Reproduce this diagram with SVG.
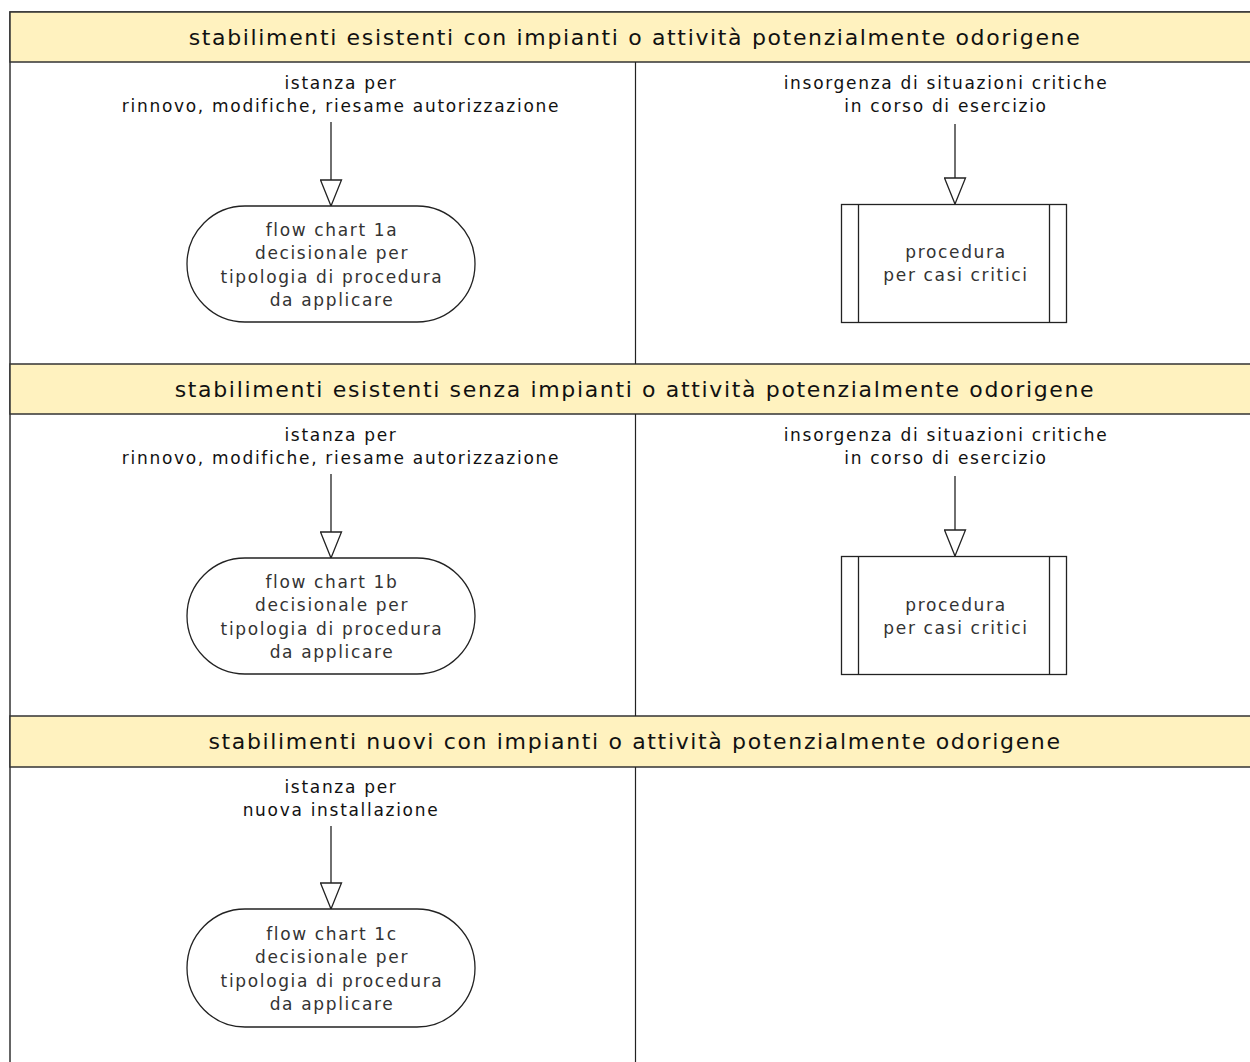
<svg xmlns="http://www.w3.org/2000/svg" width="1250" height="1062" viewBox="0 0 1250 1062">
<defs>
<style>
.hdr{fill:#fff2bf;stroke:#333;stroke-width:1.5}
.lane{fill:#fff;stroke:#333;stroke-width:1.5}
.div{stroke:#222;stroke-width:1.2}
.htxt{font-family:"DejaVu Sans",sans-serif;font-size:22px;letter-spacing:1.65px;fill:#111;text-anchor:middle}
.etxt{font-family:"DejaVu Sans",sans-serif;font-size:17px;letter-spacing:1.7px;fill:#111;text-anchor:middle}
.ntxt{font-family:"DejaVu Sans",sans-serif;font-size:17px;letter-spacing:1.65px;fill:#333;text-anchor:middle}
.shape{fill:#fff;stroke:#222;stroke-width:1.3}
.edge{stroke:#222;stroke-width:1.3;fill:none}
</style>
<marker id="tri" markerWidth="24" markerHeight="28" refX="11" refY="27" orient="0" markerUnits="userSpaceOnUse">
<path d="M0.5,1 L21.5,1 L11,27 Z" fill="#fff" stroke="#222" stroke-width="1.3"/>
</marker>
</defs>
<rect width="1250" height="1062" fill="#fff"/>
<g id="lanes">
<rect class="lane" x="10" y="12" width="1260" height="1070"/>
<rect class="hdr" x="10" y="12" width="1260" height="50"/>
<rect class="hdr" x="10" y="364" width="1260" height="50"/>
<rect class="hdr" x="10" y="716" width="1260" height="51"/>
<line class="div" x1="635.5" y1="62" x2="635.5" y2="364"/>
<line class="div" x1="635.5" y1="414" x2="635.5" y2="716"/>
<line class="div" x1="635.5" y1="767" x2="635.5" y2="1070"/>
<text class="htxt" x="635" y="45">stabilimenti esistenti con impianti o attività potenzialmente odorigene</text>
<text class="htxt" x="635" y="397">stabilimenti esistenti senza impianti o attività potenzialmente odorigene</text>
<text class="htxt" x="635" y="749">stabilimenti nuovi con impianti o attività potenzialmente odorigene</text>
</g>
<g id="connectors">
<line class="edge" x1="331" y1="122" x2="331" y2="206" marker-end="url(#tri)"/>
<line class="edge" x1="955" y1="124" x2="955" y2="204" marker-end="url(#tri)"/>
<line class="edge" x1="331" y1="474" x2="331" y2="558" marker-end="url(#tri)"/>
<line class="edge" x1="955" y1="476" x2="955" y2="556" marker-end="url(#tri)"/>
<line class="edge" x1="331" y1="826" x2="331" y2="909" marker-end="url(#tri)"/>
<text class="etxt" x="341" y="89">istanza per</text>
<text class="etxt" x="341" y="112">rinnovo, modifiche, riesame autorizzazione</text>
<text class="etxt" x="946" y="89">insorgenza di situazioni critiche</text>
<text class="etxt" x="946" y="112">in corso di esercizio</text>
<text class="etxt" x="341" y="441">istanza per</text>
<text class="etxt" x="341" y="464">rinnovo, modifiche, riesame autorizzazione</text>
<text class="etxt" x="946" y="441">insorgenza di situazioni critiche</text>
<text class="etxt" x="946" y="464">in corso di esercizio</text>
<text class="etxt" x="341" y="793">istanza per</text>
<text class="etxt" x="341" y="816">nuova installazione</text>
</g>
<g id="node-1a">
<rect class="shape" x="187" y="206" width="288" height="116" rx="58" ry="58"/>
<text class="ntxt" x="332" y="236">flow chart 1a</text>
<text class="ntxt" x="332" y="259">decisionale per</text>
<text class="ntxt" x="332" y="283">tipologia di procedura</text>
<text class="ntxt" x="332" y="306">da applicare</text>
</g>
<g id="node-critici-1">
<rect class="shape" x="841.5" y="204.5" width="225" height="118"/>
<line class="shape" x1="858.5" y1="204.5" x2="858.5" y2="322.5"/>
<line class="shape" x1="1049.5" y1="204.5" x2="1049.5" y2="322.5"/>
<text class="ntxt" x="956" y="258">procedura</text>
<text class="ntxt" x="956" y="281">per casi critici</text>
</g>
<g id="node-1b">
<rect class="shape" x="187" y="558" width="288" height="116" rx="58" ry="58"/>
<text class="ntxt" x="332" y="588">flow chart 1b</text>
<text class="ntxt" x="332" y="611">decisionale per</text>
<text class="ntxt" x="332" y="635">tipologia di procedura</text>
<text class="ntxt" x="332" y="658">da applicare</text>
</g>
<g id="node-critici-2">
<rect class="shape" x="841.5" y="556.5" width="225" height="118"/>
<line class="shape" x1="858.5" y1="556.5" x2="858.5" y2="674.5"/>
<line class="shape" x1="1049.5" y1="556.5" x2="1049.5" y2="674.5"/>
<text class="ntxt" x="956" y="611">procedura</text>
<text class="ntxt" x="956" y="634">per casi critici</text>
</g>
<g id="node-1c">
<rect class="shape" x="187" y="909" width="288" height="118" rx="58" ry="59"/>
<text class="ntxt" x="332" y="940">flow chart 1c</text>
<text class="ntxt" x="332" y="963">decisionale per</text>
<text class="ntxt" x="332" y="987">tipologia di procedura</text>
<text class="ntxt" x="332" y="1010">da applicare</text>
</g>
</svg>
